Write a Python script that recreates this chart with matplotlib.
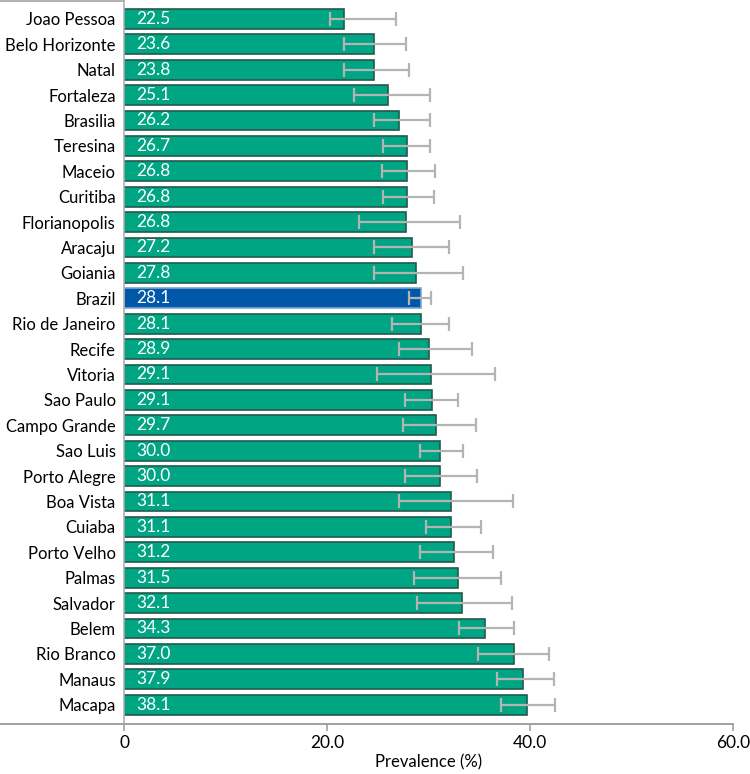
import matplotlib.pyplot as plt
import numpy as np
from matplotlib.lines import Line2D

plt.rcParams['font.family'] = ['Lato', 'DejaVu Sans']

cities = ['Joao Pessoa', 'Belo Horizonte', 'Natal', 'Fortaleza', 'Brasilia', 'Teresina',
          'Maceio', 'Curitiba', 'Florianopolis', 'Aracaju', 'Goiania', 'Brazil',
          'Rio de Janeiro', 'Recife', 'Vitoria', 'Sao Paulo', 'Campo Grande', 'Sao Luis',
          'Porto Alegre', 'Boa Vista', 'Cuiaba', 'Porto Velho', 'Palmas', 'Salvador',
          'Belem', 'Rio Branco', 'Manaus', 'Macapa']

# printed prevalence labels
labels = ['22.5', '23.6', '23.8', '25.1', '26.2', '26.7', '26.8', '26.8', '26.8', '27.2',
          '27.8', '28.1', '28.1', '28.9', '29.1', '29.1', '29.7', '30.0', '30.0', '31.1',
          '31.1', '31.2', '31.5', '32.1', '34.3', '37.0', '37.9', '38.1']

# bar lengths and interval ends as drawn against the axis
bar_len = [21.7, 24.6, 24.6, 26.0, 27.1, 27.9, 27.85, 27.9, 27.8, 28.4,
           28.8, 29.2, 29.2, 30.0, 30.2, 30.3, 30.7, 31.1, 31.1, 32.2,
           32.2, 32.5, 32.9, 33.3, 35.5, 38.4, 39.25, 39.7]
ci_low = [20.3, 21.7, 21.7, 22.6, 24.6, 25.5, 25.4, 25.5, 23.1, 24.6,
          24.6, 28.05, 26.4, 27.1, 24.9, 27.7, 27.5, 29.1, 27.7, 27.1,
          29.7, 29.1, 28.6, 28.9, 33.0, 34.9, 36.75, 37.1]
ci_high = [26.8, 27.8, 28.1, 30.1, 30.1, 30.1, 30.6, 30.5, 33.1, 32.05,
           33.4, 30.25, 32.05, 34.3, 36.5, 32.85, 34.7, 33.4, 34.75, 38.3,
           35.15, 36.3, 37.1, 38.2, 38.4, 41.85, 42.35, 42.4]

green = '#00a683'
blue = '#0058a9'

y = np.arange(len(cities))
bar_len = np.array(bar_len)
xerr = [bar_len - np.array(ci_low), np.array(ci_high) - bar_len]
colors = [blue if c == 'Brazil' else green for c in cities]
edges = ['#7fa6cf' if c == 'Brazil' else '#24594b' for c in cities]

fig = plt.figure(figsize=(7.5, 7.74), dpi=100)
ax = fig.add_axes([124 / 750, 50 / 774, 609.3 / 750, 724 / 774])

ax.barh(y, bar_len, height=0.78, color=colors, edgecolor=edges, linewidth=1.2, zorder=2)
ax.errorbar(bar_len, y, xerr=xerr, fmt='none', ecolor='#b4b4b4', elinewidth=1.6,
            capsize=5, capthick=1.6, zorder=3)

for i, lab in enumerate(labels):
    ax.annotate(lab, (0, y[i]), xytext=(9, 0), textcoords='offset points',
                ha='left', va='center', color='white', fontsize=12.5, zorder=4)

ax.set_xlim(0, 60)
ax.set_ylim(27.76, -0.74)
ax.set_xticks([0, 20, 40, 60])
ax.set_xticklabels(['0', '20.0', '40.0', '60.0'], fontsize=12.5)
ax.set_yticks(y)
ax.set_yticklabels(cities, fontsize=12)
ax.tick_params(axis='y', length=0, pad=6)
ax.tick_params(axis='x', length=5, color='#a0a0a0', width=1.2, pad=3)
ax.set_xlabel('Prevalence (%)', fontsize=12, labelpad=2)

for s in ['top', 'right', 'bottom']:
    ax.spines[s].set_visible(False)
ax.spines['left'].set_color('#b0b0b0')
ax.spines['left'].set_linewidth(1.2)

# frame lines reaching into the label area
fig.add_artist(Line2D([0, 733.3 / 750], [50 / 774, 50 / 774], color='#a0a0a0', lw=1.4))
fig.add_artist(Line2D([0, 124 / 750], [1 - 0.6 / 774, 1 - 0.6 / 774], color='#b0b0b0', lw=1.4))

fig.savefig('out.png', dpi=100)
